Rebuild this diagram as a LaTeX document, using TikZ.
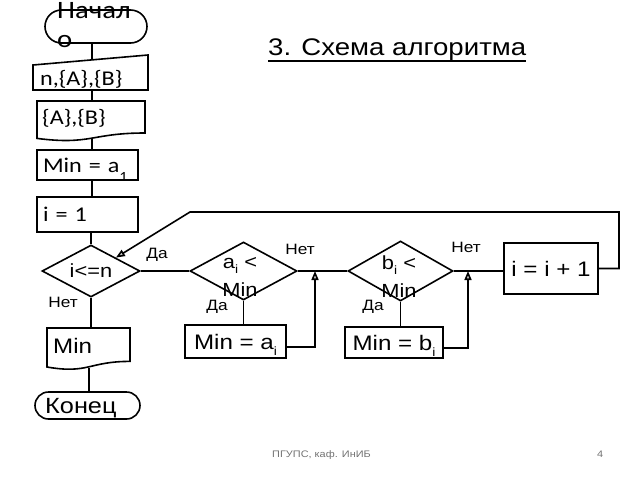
\documentclass[tikz,border=0pt]{standalone}
\usepackage{fontspec}
\setmainfont{Liberation Sans}[FakeStretch=1.15]
\newfontfamily\calfont{Carlito}[FakeStretch=1.15]
\usetikzlibrary{shapes.geometric,shapes.misc,arrows.meta,calc}
\newcommand{\lowsub}[3]{\raisebox{#1}[0pt][0pt]{\fontsize{#2}{#2}\selectfont #3}}
\begin{document}
\begin{tikzpicture}[x=1pt,y=-1pt,
  ln/.style={line width=1.6pt},
  arr/.style={line width=1.6pt,-{Triangle[length=9pt,width=7pt,fill=gray!45]}},
  box/.style={draw,line width=1.6pt,rectangle,inner sep=0pt},
  lbox/.style={box,text width=#1,align=left,inner xsep=6pt},
  ghost/.style={rectangle,inner sep=0pt},
  dia/.style={draw,line width=1.6pt,diamond,aspect=2,inner sep=0pt},
  term/.style={draw,line width=1.6pt,rounded rectangle,inner sep=0pt},
  cal/.style={font=\calfont\fontsize{#1}{#1}\selectfont},
  ari/.style={font=\fontsize{#1}{#1}\selectfont},
  lbl/.style={inner sep=0pt,font=\fontsize{15}{15}\selectfont}]
\useasboundingbox (0,0) rectangle (640,480);

% title and footer
\node[ari=24,anchor=base west,inner sep=0pt] (title) at (268,55) {3. Схема алгоритма};
\draw[line width=1.5pt] ([yshift=-1pt]title.south west) -- ([yshift=-1pt]title.south east);
\node[ari=9.5,anchor=base west,inner sep=0pt,text=black!55] (foot) at (272,457) {ПГУПС, каф. ИнИБ};
\node[ari=9.5,anchor=base west,inner sep=0pt,text=black!55] (page) at (597,457) {4};

% start
\node[term,minimum width=102pt,minimum height=33pt] (start) at (96,26.5) {};
\node[cal=25,anchor=base west,inner sep=0pt] (startt) at (57,18) {Начал};
\node[cal=25,anchor=base west,inner sep=0pt] (startt2) at (57,47) {о};

% input
\draw[ln] (33,65) -- (148,55) -- (148,90) -- (33,90) -- cycle;
\node[ghost,minimum width=115pt,minimum height=30pt] (inp) at (92,75) {};
\node[cal=21,anchor=base west,inner sep=0pt] (inpt) at (40,85) {n,\{A\},\{B\}};

% document {A},{B}
\draw[ln] (37,101) -- (145,101) -- (145,133) .. controls (91,133) and (91,145.3) .. (37,138.4) -- cycle;
\node[ghost,minimum width=108pt,minimum height=37pt] (doc1) at (92,119.5) {};
\node[cal=21,anchor=base west,inner sep=0pt] (doc1t) at (42,124) {\{A\},\{B\}};

% Min = a1
\node[lbox=89pt,minimum width=101pt,minimum height=30pt,cal=21] (min1) at (87.5,165) {Min = a\lowsub{-9pt}{14}{1}};
% i = 1
\node[lbox=89pt,minimum width=101pt,minimum height=35pt,cal=21] (i1) at (87.5,214.5) {i = 1};

% decision i<=n
\node[dia,minimum width=98pt,minimum height=52pt,ari=19] (d1) at (91,271) {i<=n};

% output Min
\draw[ln] (47,328) -- (130,328) -- (130,361.4) .. controls (88.5,361.4) and (88.5,374.2) .. (47,367) -- cycle;
\node[ghost,minimum width=83pt,minimum height=40pt] (mind) at (89,348) {};
\node[ari=21,anchor=base west,inner sep=0pt] (mindt) at (53,353) {Min};

% end
\node[term,minimum width=105pt,minimum height=27pt] (end) at (87.5,405.5) {};
\node[ari=22,anchor=base west,inner sep=0pt] (endt) at (45,413.5) {Конец};

% decision a_i < Min
\node[dia,minimum width=107pt,minimum height=58pt] (d2) at (243.5,271) {};
\node[align=center,inner sep=0pt,font=\fontsize{19}{28}\selectfont] (d2t) at (240,277) {a\lowsub{-5pt}{12}{i} <\\Min};
\node[box,minimum width=101pt,minimum height=33pt,ari=21] (ra) at (235.5,341.5) {Min = a\lowsub{-6pt}{12}{i}};

% decision b_i < Min
\node[dia,minimum width=105pt,minimum height=60pt] (d3) at (400.5,271) {};
\node[align=center,inner sep=0pt,font=\fontsize{19}{28}\selectfont] (d3t) at (399,277) {b\lowsub{-5pt}{12}{i} <\\Min};
\node[box,minimum width=98pt,minimum height=31pt,ari=21] (rb) at (394,342.5) {Min = b\lowsub{-6pt}{12}{i}};

% i = i + 1
\node[box,minimum width=94pt,minimum height=51pt,ari=21] (incr) at (551,268.5) {i = i + 1};

% labels
\node[lbl] (l1y) at (157,255) {Да};
\node[lbl] (l1n) at (63,302) {Нет};
\node[lbl] (l2n) at (300,249) {Нет};
\node[lbl] (l2y) at (217,307) {Да};
\node[lbl] (l3n) at (466,247) {Нет};
\node[lbl] (l3y) at (373,307) {Да};

% junction coordinates
\coordinate (ja) at (315,271);
\coordinate (jb) at (468,271);
\coordinate (lp) at (619,212);
\coordinate (lq) at (190,212);

% connectors
\draw[ln] (start.south -| inp.north) -- (inp.north);
\draw[ln] (inp.south) -- (doc1.north);
\draw[ln] (doc1.south) -- (doc1.south |- min1.north);
\draw[ln] (min1.south -| doc1.south) -- (i1.north -| doc1.south);
\draw[ln] (i1.south -| d1.north) -- (d1.north);
\draw[ln] (d1.south) -- (d1.south |- mind.north);
\draw[ln] (mind.south) -- (mind.south |- end.north);
\draw[ln] (d1.east) -- (d2.west);
\draw[ln] (d2.east) -- (d3.west);
\draw[ln] (d3.east) -- (d3.east -| incr.west);
\draw[ln] (d2.south) -- (d2.south |- ra.north);
\draw[ln] (d3.south) -- (d3.south |- rb.north);
\draw[arr] ([yshift=-5.5pt]ra.east) -| (ja);
\draw[arr] ([yshift=-5.5pt]rb.east) -| (jb);
\draw[arr] (incr.east) -| (lp) -- (lq) -- (d1.north east);
\end{tikzpicture}
\end{document}
